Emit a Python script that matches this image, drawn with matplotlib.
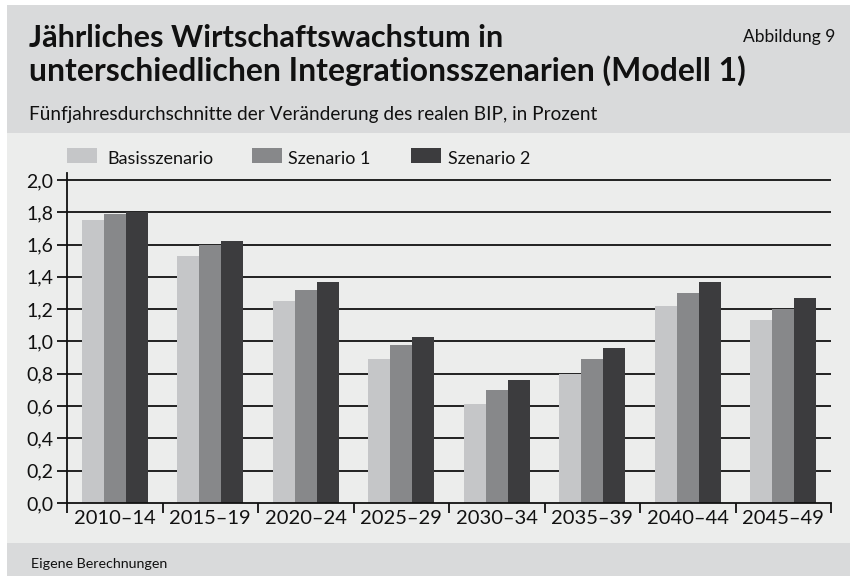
import matplotlib
matplotlib.use("Agg")
import matplotlib.pyplot as plt
from matplotlib.patches import Rectangle
import numpy as np

categories = ["2010–14", "2015–19", "2020–24", "2025–29", "2030–34", "2035–39", "2040–44", "2045–49"]
series_names = ["Basisszenario", "Szenario 1", "Szenario 2"]
basis = [1.75, 1.53, 1.25, 0.89, 0.61, 0.80, 1.22, 1.13]
szen1 = [1.79, 1.60, 1.32, 0.98, 0.70, 0.89, 1.30, 1.20]
szen2 = [1.80, 1.62, 1.37, 1.03, 0.76, 0.96, 1.37, 1.27]
yticks = [0.0, 0.2, 0.4, 0.6, 0.8, 1.0, 1.2, 1.4, 1.6, 1.8, 2.0]
ytick_labels = ["0,0", "0,2", "0,4", "0,6", "0,8", "1,0", "1,2", "1,4", "1,6", "1,8", "2,0"]

title_lines = ["Jährliches Wirtschaftswachstum in", "unterschiedlichen Integrationsszenarien (Modell 1)"]
subtitle = "Fünfjahresdurchschnitte der Veränderung des realen BIP, in Prozent"
fig_label = "Abbildung 9"
source = "Eigene Berechnungen"

colors = ["#c5c6c8", "#87888a", "#3c3c3e"]
header_bg = "#d9dadb"
panel_bg = "#ecedec"
FONT = "Lato"

W, H = 850, 576
fig = plt.figure(figsize=(W / 100, H / 100), dpi=100)
fig.patch.set_facecolor("white")

def fx(px):
    return px / W

def fy(py):
    return 1 - py / H

# backgrounds
fig.add_artist(Rectangle((fx(7), fy(133)), fx(850 - 7), (133 - 5) / H,
                         transform=fig.transFigure, facecolor=header_bg, edgecolor="none", zorder=0))
fig.add_artist(Rectangle((fx(7), fy(543)), fx(850 - 7), (543 - 133) / H,
                         transform=fig.transFigure, facecolor=panel_bg, edgecolor="none", zorder=0))
fig.add_artist(Rectangle((fx(7), fy(576)), fx(850 - 7), (576 - 543) / H,
                         transform=fig.transFigure, facecolor=header_bg, edgecolor="none", zorder=0))

renderer = fig.canvas.get_renderer()

def fit_text(s, x, y, width_px, size, weight="normal", ha="left"):
    t = fig.text(fx(x), fy(y), s, fontsize=size, fontweight=weight, family=FONT,
                 ha=ha, va="baseline", color="#111111")
    w = t.get_window_extent(renderer=renderer).width
    t.set_fontsize(size * width_px / w)
    return t

fit_text(title_lines[0], 29, 47, 505 - 29, 24, weight="bold")
fit_text(title_lines[1], 29, 81, 747 - 29, 24, weight="bold")
fit_text(subtitle, 29, 120, 595 - 29, 13)
fit_text(fig_label, 835, 42, 835 - 743, 11, ha="right")
fit_text(source, 31, 568, 168 - 31, 10)

# axes
ax = fig.add_axes([fx(67), fy(503), fx(831 - 67), (503 - 173) / H])
ax.set_facecolor("none")
x = np.arange(len(categories))
bw = 0.232
for i, (vals, c, name) in enumerate(zip([basis, szen1, szen2], colors, series_names)):
    ax.bar(x + (i - 1) * bw, vals, width=bw, color=c, label=name, zorder=3, linewidth=0)

ax.set_xlim(-0.5, len(categories) - 0.5)
ax.set_ylim(0, 2.043)
ax.set_yticks(yticks)
ax.set_yticklabels(ytick_labels, family=FONT, fontsize=14, color="#111111")
for yv in yticks[1:]:
    ax.axhline(yv, color="#111111", lw=1.3, zorder=1)

ax.set_xticks(np.arange(len(categories) + 1) - 0.5)
ax.set_xticklabels([])
ax.set_xticks(x, minor=True)
ax.set_xticklabels(categories, minor=True, family=FONT, fontsize=14.5, color="#111111")
ax.tick_params(axis="x", which="major", length=7, width=1.3, color="#111111", direction="out")
ax.tick_params(axis="x", which="minor", length=0, pad=5)
ax.tick_params(axis="y", length=7, width=1.3, color="#111111", direction="out", pad=3)

for s in ["top", "right"]:
    ax.spines[s].set_visible(False)
ax.spines["left"].set_color("#111111")
ax.spines["left"].set_linewidth(1.3)
ax.spines["bottom"].set_color("#111111")
ax.spines["bottom"].set_linewidth(1.3)
ax.spines["bottom"].set_zorder(4)

# legend (manual layout)
leg_patch_x = [67, 252, 411]
leg_text_x = [107, 288, 448]
for px, tx, c, name in zip(leg_patch_x, leg_text_x, colors, series_names):
    fig.add_artist(Rectangle((fx(px), fy(163)), fx(30), 15 / H, transform=fig.transFigure,
                             facecolor=c, edgecolor="none"))
    fig.text(fx(tx), fy(164), name, family=FONT, fontsize=13, color="#111111",
             ha="left", va="baseline")

fig.savefig("out.png", dpi=100, facecolor=fig.get_facecolor())
